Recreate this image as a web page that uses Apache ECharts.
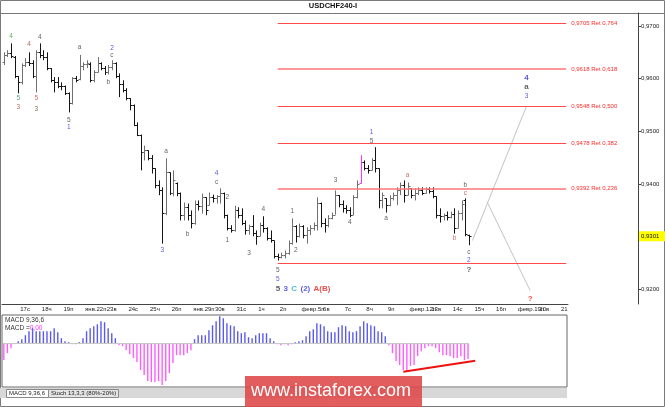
<!DOCTYPE html>
<html>
<head>
<meta charset="utf-8">
<script src="https://cdn.jsdelivr.net/npm/echarts@6.0.0/dist/echarts.min.js"></script>
<style>
html, body { margin: 0; padding: 0; background: #fff; }
#chart { width: 665px; height: 407px; }
</style>
</head>
<body>
<div id="chart"></div>
<script>
// trading days on the time axis (first day starts at 08:00, last one is cut at 08:00)
var days = ['16', '17с', '18ч', '19п', 'янв.22п', '23в', '24с', '25ч', '26п', 'янв.29п', '30в', '31с',
  '1ч', '2п', 'февр.5п', '6в', '7с', '8ч', '9п', 'февр.12п', '13в', '14с', '15ч', '16п', 'февр.19п', '20в', '21'];

// H4 bars
var open = [
  .9631, .9645, .9648, .9641, .9605, .9593, .9626, .9631, .9629, .9605,
  .9650, .9645, .9641, .9620, .9597, .9593, .9587, .9586, .9572, .9553,
  .9601, .9599, .9624, .9627, .9627, .9597, .9612, .9629, .9620, .9612,
  .9622, .9629, .9605, .9589, .9578, .9563, .9550, .9513, .9494, .9460,
  .9464, .9449, .9430, .9399, .9388, .9346, .9422, .9384, .9403, .9384,
  .9341, .9356, .9341, .9327, .9363, .9358, .9375, .9360, .9375, .9373,
  .9377, .9384, .9341, .9316, .9312, .9350, .9342, .9327, .9312, .9320,
  .9308, .9301, .9322, .9316, .9297, .9293, .9263, .9261, .9266, .9270,
  .9289, .9320, .9301, .9320, .9303, .9312, .9316, .9322, .9365, .9327,
  .9322, .9335, .9342, .9379, .9363, .9354, .9350, .9342, .9375, .9403,
  .9441, .9430, .9426, .9445, .9430, .9369, .9373, .9360, .9373, .9379,
  .9388, .9398, .9379, .9392, .9379, .9384, .9388, .9384, .9390, .9386,
  .9377, .9342, .9339, .9342, .9337, .9344, .9316, .9346, .9369, .9304
];
var close = [
  .9645, .9648, .9643, .9605, .9593, .9626, .9631, .9629, .9605, .9650,
  .9645, .9641, .9620, .9597, .9593, .9587, .9586, .9572, .9553, .9601,
  .9597, .9624, .9627, .9629, .9597, .9612, .9629, .9620, .9612, .9622,
  .9629, .9605, .9589, .9578, .9563, .9550, .9513, .9494, .9460, .9464,
  .9449, .9430, .9399, .9388, .9346, .9422, .9384, .9407, .9384, .9341,
  .9356, .9341, .9327, .9363, .9358, .9375, .9350, .9375, .9373, .9377,
  .9384, .9341, .9316, .9312, .9350, .9342, .9327, .9312, .9320, .9308,
  .9301, .9322, .9316, .9297, .9293, .9263, .9261, .9266, .9270, .9289,
  .9320, .9301, .9320, .9303, .9312, .9316, .9322, .9365, .9327, .9322,
  .9335, .9342, .9379, .9363, .9354, .9350, .9342, .9375, .9401, .9441,
  .9430, .9426, .9445, .9430, .9369, .9379, .9360, .9373, .9379, .9388,
  .9398, .9379, .9396, .9379, .9384, .9388, .9384, .9390, .9386, .9377,
  .9342, .9339, .9342, .9337, .9344, .9316, .9346, .9363, .9306, .9301
];
var low = [
  .9626, .9641, .9639, .9601, .9572, .9589, .9622, .9624, .9601, .9574,
  .9639, .9635, .9616, .9593, .9574, .9582, .9578, .9569, .9536, .9551,
  .9593, .9597, .9616, .9620, .9593, .9593, .9612, .9616, .9607, .9608,
  .9616, .9601, .9565, .9574, .9559, .9540, .9510, .9491, .9426, .9445,
  .9445, .9420, .9392, .9379, .9287, .9341, .9379, .9377, .9377, .9331,
  .9331, .9331, .9316, .9323, .9350, .9344, .9341, .9360, .9365, .9363,
  .9363, .9335, .9312, .9308, .9310, .9335, .9322, .9304, .9304, .9301,
  .9285, .9301, .9308, .9293, .9289, .9259, .9255, .9259, .9259, .9266,
  .9285, .9289, .9299, .9297, .9287, .9303, .9312, .9312, .9318, .9308,
  .9318, .9333, .9342, .9356, .9346, .9344, .9337, .9341, .9373, .9401,
  .9426, .9420, .9426, .9422, .9354, .9354, .9346, .9358, .9369, .9360,
  .9379, .9365, .9379, .9373, .9369, .9379, .9379, .9382, .9382, .9373,
  .9335, .9327, .9331, .9331, .9335, .9306, .9316, .9331, .9301, .9284
];
var high = [
  .9650, .9654, .9667, .9643, .9605, .9629, .9639, .9650, .9635, .9654,
  .9667, .9654, .9650, .9620, .9603, .9603, .9593, .9587, .9574, .9603,
  .9605, .9645, .9631, .9635, .9631, .9616, .9641, .9631, .9624, .9626,
  .9635, .9631, .9610, .9597, .9582, .9563, .9551, .9517, .9494, .9473,
  .9464, .9455, .9430, .9407, .9394, .9449, .9422, .9426, .9403, .9384,
  .9365, .9363, .9350, .9369, .9369, .9382, .9375, .9384, .9380, .9379,
  .9392, .9384, .9342, .9322, .9359, .9356, .9354, .9331, .9323, .9341,
  .9312, .9327, .9339, .9318, .9312, .9293, .9268, .9270, .9274, .9293,
  .9335, .9322, .9325, .9322, .9318, .9322, .9327, .9375, .9365, .9335,
  .9341, .9346, .9388, .9379, .9369, .9360, .9356, .9379, .9407, .9455,
  .9445, .9436, .9449, .9470, .9430, .9384, .9373, .9379, .9384, .9394,
  .9403, .9407, .9403, .9392, .9392, .9394, .9394, .9394, .9394, .9394,
  .9377, .9354, .9344, .9348, .9348, .9354, .9350, .9369, .9373, .9304
];
var highlightBar = 99;

// MACD 9,36,6 histogram
var macdHist = [
  -17, -10, -5, -1, 2, 4, 8, 12, 15, 12,
  12, 12, 12, 12, 15, 11, 5, 2, 1, -1,
  -1, 1, 5, 12, 15, 17, 19, 22, 21, 15,
  10, 5, -2, -3, -7, -11, -15, -19, -27, -32,
  -38, -39, -39, -38, -42, -38, -30, -20, -12, -12,
  -12, -10, -7, 4, 8, 8, 8, 13, 18, 22,
  27, 25, 20, 18, 17, 12, 10, 11, 6, 5,
  8, 10, 10, 10, 5, 2, -1, -2, -1, -2,
  -1, 1, 2, 3, 7, 12, 14, 20, 19, 17,
  12, 11, 11, 16, 18, 17, 12, 11, 12, 17,
  22, 20, 18, 17, 12, 11, 7, -2, -10, -18,
  -22, -27, -29, -23, -22, -13, -8, -5, -3, -3,
  -5, -9, -12, -12, -13, -15, -15, -13, -17, -16
];
var macdTrend = [[111, -28.7], [131, -17.7]];

// Fibonacci retracement levels
var fibStart = 76;
var fibLevels = [0.9705, 0.9618, 0.9548, 0.9478, 0.9392, 0.9250];
var fibRatios = [0.764, 0.618, 0.500, 0.382, 0.236, null];

// projected path
var projUp = [[130, 0.9293], [145, 0.9548]];
var projDown = [[134, 0.9367], [146, 0.9198]];

var priceTicks = [0.92, 0.94, 0.95, 0.96, 0.97];
var yMin = 0.91725, yMax = 0.97246;

// wave marks: [bar, price, text, colour, bold]
var waveLabels = [
  [2, .9681, '4', 'gr'], [4, .9563, '5', 'tl'], [4, .9546, '3', 'br'],
  [7, .9665, '4', 'br'], [9, .9563, '5', 'rb'], [9, .9542, '3', 'db'],
  [10, .9679, '4', 'dk'], [18, .9521, '5', 'dk'], [18, .9508, '1', 'bl'],
  [21, .9660, 'a', 'dk'], [29, .9593, 'b', 'dk'], [30, .9658, '2', 'bl'],
  [30, .9645, 'c', 'dk'], [44, .9274, '3', 'bl'], [45, .9462, 'a', 'dk'],
  [51, .9304, 'b', 'dk'], [59, .9420, '4', 'bl'], [59, .9403, 'c', 'dk'],
  [62, .9375, '2', 'dk'], [62, .9293, '1', 'dk'], [68, .9268, '3', 'dk'],
  [72, .9352, '4', 'dk'], [76, .9236, '5', 'dk'], [76, .9219, '5', 'bl'],
  [80, .9348, '1', 'dk'], [81, .9274, '2', 'dk'], [92, .9407, '3', 'dk'],
  [96, .9327, '4', 'dk'], [102, .9498, '1', 'bl'], [102, .9481, '5', 'dk'],
  [106, .9335, 'a', 'dk'], [112, .9417, 'a', 'rb'], [125, .9297, 'b', 'rb'],
  [128, .9398, 'b', 'dk'], [128, .9382, 'c', 'rb'], [129, .9270, 'c', 'dk'],
  [129, .9255, '2', 'bl'], [129, .9238, '?', 'dk', 1],
  [145, .9601, '4', 'bl', 1], [145, .9584, 'a', 'dk', 1], [145, .9567, '3', 'bl'],
  [146, .9183, '?', 'rd', 1]
];
var labelColors = {
  dk: '#3a3a3a', bl: '#3030d8', gr: '#3d9d3d', tl: '#35876b', br: '#a84432',
  rb: '#c04848', db: '#6a3a2a', rd: '#ee2222'
};
var degreeRow = [76, 0.9201];

var FONT = 'Liberation Sans';

var categories = [];
days.forEach(function (d, k) {
  var n = k === 0 ? 4 : (k === days.length - 1 ? 3 : 6);
  var h0 = k === 0 ? 2 : 0;
  for (var j = 0; j < n; j++) categories.push(d + '|' + (h0 + j) * 4);
});
function isDayStart(index, value) { return value.split('|')[1] === '0'; }

var ohlc = open.map(function (o, i) { return [i, o, close[i], low[i], high[i]]; });

function renderBar(params, api) {
  var i = api.value(0);
  var o = api.coord([i, api.value(1)]);
  var c = api.coord([i, api.value(2)]);
  var lo = api.coord([i, api.value(3)]);
  var hi = api.coord([i, api.value(4)]);
  var x = Math.round(o[0]) + 0.5;
  var col = i === highlightBar ? '#ff33ff' : (api.value(2) >= api.value(1) ? '#707070' : '#141414');
  var st = { stroke: col, lineWidth: 1 };
  var yo = Math.round(o[1]) + 0.5, yc = Math.round(c[1]) + 0.5;
  return {
    type: 'group',
    children: [
      { type: 'line', shape: { x1: x, y1: hi[1], x2: x, y2: lo[1] }, style: st },
      { type: 'line', shape: { x1: x - 2, y1: yo, x2: x, y2: yo }, style: st },
      { type: 'line', shape: { x1: x, y1: yc, x2: x + 2, y2: yc }, style: st }
    ]
  };
}

var fibMarks = fibLevels.map(function (v, k) {
  var r = fibRatios[k];
  var thick = (r === 0.618 || r === 0.236);
  return [
    { coord: [fibStart, v], lineStyle: { color: thick ? '#ff7676' : '#ff4848', width: thick ? 1.6 : 1, type: 'solid' } },
    {
      coord: [categories.length - 1, v],
      label: {
        show: r !== null,
        formatter: r === null ? '' : v.toFixed(4).replace('.', ',') + ' Ret ' + r.toFixed(3).replace('.', ','),
        position: 'end', distance: 5, color: '#ff2a2a', fontSize: 6, fontFamily: FONT
      }
    }
  ];
});

var chart = echarts.init(document.getElementById('chart'), null, { renderer: 'canvas' });
chart.setOption({
  animation: false,
  backgroundColor: '#fff',
  textStyle: { fontFamily: FONT },
  grid: [
    { left: 2, right: 97, top: 13, bottom: 103 },
    { left: 2, right: 98, top: 315, height: 72, show: true, borderColor: '#666', borderWidth: 1 }
  ],
  xAxis: [
    {
      type: 'category', gridIndex: 0, data: categories, boundaryGap: true,
      axisLine: { lineStyle: { color: '#444' } },
      axisTick: { alignWithLabel: true, interval: isDayStart, length: 3, lineStyle: { color: '#444' } },
      axisLabel: {
        interval: isDayStart, align: 'left', margin: 2, fontSize: 6, color: '#222', padding: [0, 0, 0, 2],
        formatter: function (v) { return v.split('|')[0]; }
      },
      splitLine: { show: false }
    },
    {
      type: 'category', gridIndex: 1, data: categories, boundaryGap: true,
      axisLine: { show: false }, axisTick: { show: false }, axisLabel: { show: false }
    }
  ],
  yAxis: [
    {
      type: 'value', gridIndex: 0, position: 'right', offset: 70, min: yMin, max: yMax,
      axisLine: { show: true, lineStyle: { color: '#444' } },
      axisTick: { show: true, length: 3, customValues: priceTicks, lineStyle: { color: '#444' } },
      axisLabel: {
        customValues: priceTicks, margin: 3, fontSize: 6, color: '#222',
        formatter: function (v) { return v.toFixed(4).replace('.', ','); }
      },
      splitLine: { show: false }
    },
    {
      type: 'value', gridIndex: 1, min: -44, max: 28.3,
      axisLine: { show: false }, axisTick: { show: false }, axisLabel: { show: false }, splitLine: { show: false }
    }
  ],
  series: [
    {
      type: 'line', xAxisIndex: 0, yAxisIndex: 0, data: projUp, symbol: 'none', silent: true, clip: false,
      lineStyle: { color: '#c4c4c4', width: 1 },
      markLine: { symbol: ['none', 'none'], silent: true, data: fibMarks }
    },
    {
      type: 'line', xAxisIndex: 0, yAxisIndex: 0, data: projDown, symbol: 'none', silent: true,
      lineStyle: { color: '#c4c4c4', width: 1 }
    },
    {
      type: 'custom', xAxisIndex: 0, yAxisIndex: 0, renderItem: renderBar,
      encode: { x: 0, y: [1, 2, 3, 4] }, data: ohlc, silent: true
    },
    {
      type: 'scatter', xAxisIndex: 0, yAxisIndex: 0, symbolSize: 0, silent: true, clip: false,
      data: waveLabels.map(function (w) {
        return {
          value: [w[0], w[1]],
          label: {
            show: true, position: 'inside', formatter: w[2], color: labelColors[w[3]],
            fontSize: w[4] ? 8 : 6.5, fontWeight: w[4] ? 'bold' : 'normal', fontFamily: FONT
          }
        };
      }).concat([{
        value: degreeRow,
        label: {
          show: true, position: 'inside', align: 'left', offset: [-2, 0],
          formatter: '{k|5} {b|3} {c|C} {b|(2)} {r|A}{r|(B)}',
          rich: {
            k: { color: '#333', fontSize: 8, fontWeight: 'bold', fontFamily: FONT },
            b: { color: '#3333dd', fontSize: 8, fontWeight: 'bold', fontFamily: FONT },
            c: { color: '#22a8dd', fontSize: 8, fontWeight: 'bold', fontFamily: FONT },
            r: { color: '#dd2222', fontSize: 8, fontWeight: 'bold', fontFamily: FONT }
          }
        }
      }])
    },
    {
      type: 'bar', xAxisIndex: 1, yAxisIndex: 1, data: macdHist, barWidth: 1.4, silent: true,
      itemStyle: {
        color: function (p) { return p.value >= 0 ? '#5a5aee' : '#ff5cff'; }
      },
      markLine: {
        symbol: ['none', 'none'], silent: true, label: { show: false },
        data: [
          [{ coord: [0, 0], lineStyle: { color: '#c8c8c8', width: 1, type: 'solid' } }, { coord: [macdHist.length - 1, 0] }],
          [{ coord: macdTrend[0], lineStyle: { color: '#ee1111', width: 2, type: 'solid' } }, { coord: macdTrend[1] }]
        ]
      }
    }
  ]
});

// last price tag on the price scale
var lastClose = close[close.length - 1];
var tagY = chart.convertToPixel({ yAxisIndex: 0 }, lastClose);

chart.setOption({
  graphic: [
    { type: 'rect', shape: { x: 0.5, y: 0.5, width: 664, height: 406 }, style: { fill: 'none', stroke: '#7a7a7a', lineWidth: 1 }, silent: true },
    { type: 'line', shape: { x1: 0, y1: 13.5, x2: 665, y2: 13.5 }, style: { stroke: '#777', lineWidth: 1 }, silent: true },
    { type: 'text', x: 333, y: 6, style: { text: 'USDCHF240-I', font: 'bold 7.5px ' + FONT, fill: '#111', align: 'center', verticalAlign: 'middle' }, silent: true },
    { type: 'rect', shape: { x: 638, y: tagY - 5, width: 27, height: 10 }, style: { fill: '#ffff00' }, silent: true },
    { type: 'text', x: 641, y: tagY, style: { text: lastClose.toFixed(4).replace('.', ','), font: '6px ' + FONT, fill: '#111', verticalAlign: 'middle' }, silent: true },
    {
      type: 'text', x: 5, y: 316.5, style: {
        text: 'MACD 9,36,6\n{k|MACD =}{m|0,00}', font: '6.5px ' + FONT, fill: '#333', verticalAlign: 'top', lineHeight: 8,
        rich: { k: { fill: '#333', fontSize: 6.5 }, m: { fill: '#ff33ff', fontSize: 6.5 } }
      }, silent: true
    },
    { type: 'rect', shape: { x: 0, y: 388, width: 567, height: 10 }, style: { fill: '#d8d8d8' }, silent: true },
    { type: 'rect', shape: { x: 48.5, y: 389.5, width: 70, height: 8 }, style: { fill: '#e4e4e4', stroke: '#8a8a8a', lineWidth: 1 }, silent: true },
    { type: 'rect', shape: { x: 6.5, y: 389.5, width: 42, height: 8 }, style: { fill: '#fff', stroke: '#8a8a8a', lineWidth: 1 }, silent: true },
    { type: 'text', x: 9, y: 393.5, style: { text: 'MACD 9,36,6', font: '6px ' + FONT, fill: '#222', verticalAlign: 'middle' }, silent: true },
    { type: 'text', x: 51, y: 393.5, style: { text: 'Stoch 13,3,3 (80%-20%)', font: '6px ' + FONT, fill: '#222', verticalAlign: 'middle' }, silent: true },
    { type: 'rect', shape: { x: 245, y: 376, width: 177, height: 31 }, style: { fill: 'rgba(222,72,72,0.88)' }, silent: true },
    { type: 'text', x: 331, y: 391, style: { text: 'www.instaforex.com', font: '18px ' + FONT, fill: '#ffffff', align: 'center', verticalAlign: 'middle' }, silent: true }
  ]
});
</script>
</body>
</html>
